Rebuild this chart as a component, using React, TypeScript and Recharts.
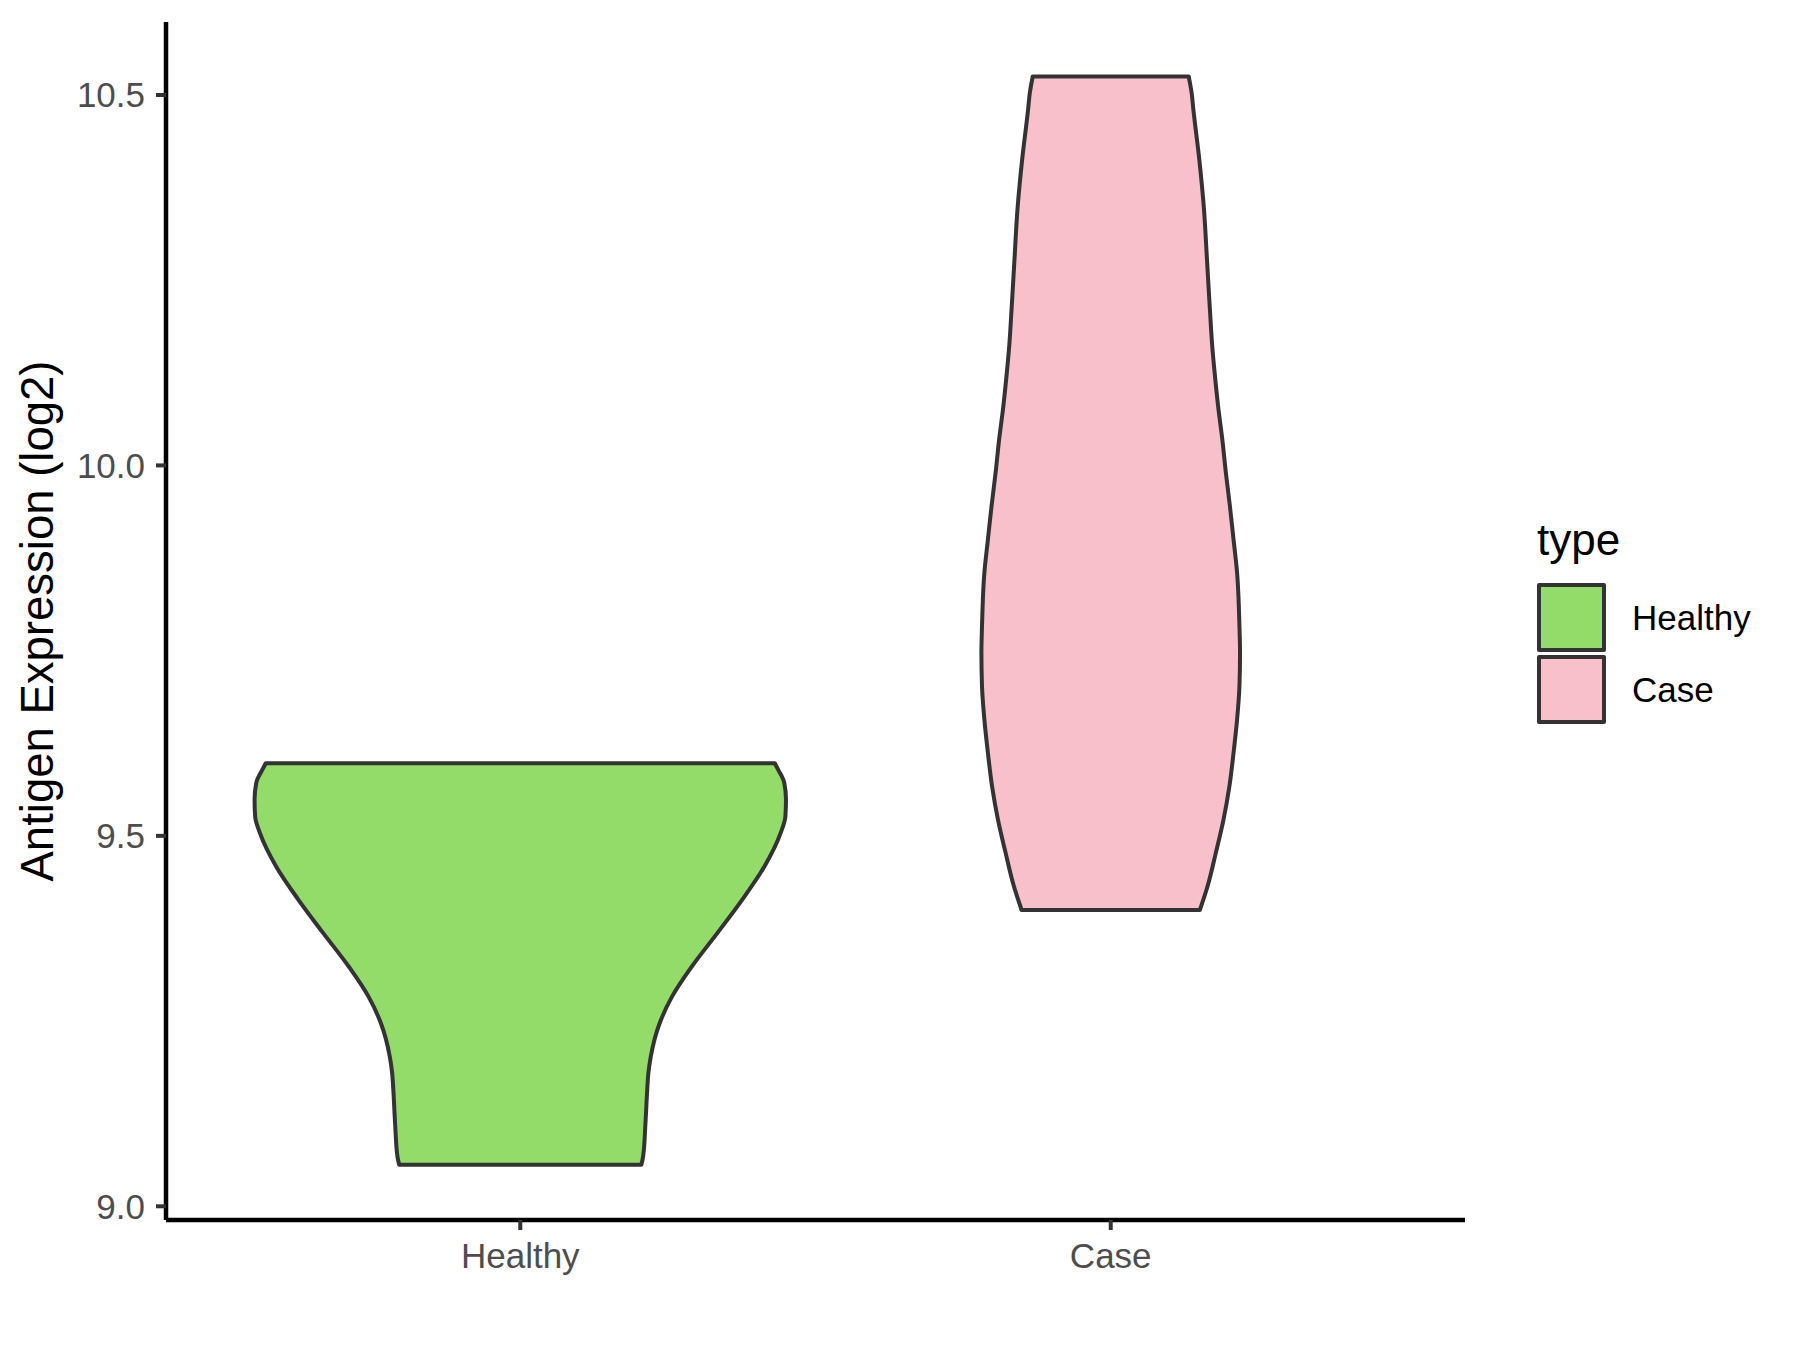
import React from 'react';
import { ComposedChart, Area, XAxis, YAxis, Legend, ReferenceLine } from 'recharts';

const categories = ['Healthy', 'Case'];
const fills = ['#93DC6A', '#F8C0CB'];
const yTicks = [9.0, 9.5, 10.0, 10.5];

// violin outline: expression value and half width (in category units)
const healthyY = [9.056, 9.067, 9.112, 9.157, 9.18, 9.202, 9.247, 9.283, 9.323, 9.369, 9.414, 9.458, 9.504, 9.526, 9.549, 9.572, 9.589, 9.598];
const healthyHalfWidth = [0.205, 0.208, 0.212, 0.215, 0.217, 0.221, 0.236, 0.257, 0.29, 0.334, 0.376, 0.413, 0.441, 0.449, 0.45, 0.447, 0.437, 0.431];

const caseY = [9.4, 9.432, 9.477, 9.522, 9.567, 9.612, 9.657, 9.702, 9.747, 9.783, 9.855, 9.9, 9.944, 9.99, 10.035, 10.079, 10.125, 10.16, 10.21, 10.278, 10.345, 10.413, 10.48, 10.503, 10.525];
const caseHalfWidth = [0.151, 0.164, 0.178, 0.191, 0.201, 0.208, 0.214, 0.218, 0.219, 0.218, 0.214, 0.208, 0.202, 0.195, 0.189, 0.182, 0.176, 0.172, 0.168, 0.163, 0.158, 0.15, 0.14, 0.137, 0.132];

const font = '"Liberation Sans", Arial, sans-serif';
const outline = '#333333';

const toRows = (ys: number[], hws: number[], center: number) =>
  ys.map((y, i) => ({ y, range: [center - hws[i], center + hws[i]] }));

const violins = [
  { name: categories[0], fill: fills[0], rows: toRows(healthyY, healthyHalfWidth, 1) },
  { name: categories[1], fill: fills[1], rows: toRows(caseY, caseHalfWidth, 2) },
];

const YTitle = ({ viewBox }: any) => {
  const x = viewBox.x + 45;
  const y = viewBox.y + viewBox.height / 2;
  return (
    <text x={x} y={y} transform={`rotate(-90, ${x}, ${y})`} textAnchor="middle" fontSize={45.5} fontFamily={font} fill="#000">
      Antigen Expression (log2)
    </text>
  );
};

const renderLegend = () => (
  <div style={{ position: 'relative', width: 260, height: 240, fontFamily: font, color: '#000' }}>
    <div style={{ position: 'absolute', left: 8, top: 18, fontSize: 44, lineHeight: '44px' }}>type</div>
    {categories.map((c, i) => (
      <React.Fragment key={c}>
        <div
          style={{
            position: 'absolute',
            left: 8,
            top: 83 + i * 72,
            width: 69,
            height: 69,
            boxSizing: 'border-box',
            border: `4px solid ${outline}`,
            borderRadius: 2,
            background: fills[i],
          }}
        />
        <div style={{ position: 'absolute', left: 103, top: 83 + i * 72, height: 69, lineHeight: '69px', fontSize: 35 }}>{c}</div>
      </React.Fragment>
    ))}
  </div>
);

export default function App() {
  return (
    <ComposedChart width={1784} height={1334} layout="vertical" margin={{ top: 14, right: 327, bottom: 62, left: 0 }}>
      <XAxis
        type="number"
        domain={[0.4, 2.6]}
        ticks={[1, 2]}
        interval={0}
        allowDataOverflow
        tickFormatter={(v: number) => categories[v - 1]}
        height={60}
        tickSize={10}
        tickMargin={13}
        axisLine={{ stroke: '#000', strokeWidth: 4.5 }}
        tickLine={{ stroke: outline, strokeWidth: 4 }}
        tick={{ fill: '#4D4D4D', fontSize: 35, fontFamily: font }}
      />
      <YAxis
        type="number"
        dataKey="y"
        reversed
        domain={[8.9815, 10.5985]}
        ticks={yTicks}
        interval={0}
        allowDataOverflow
        tickFormatter={(v: number) => v.toFixed(1)}
        width={158}
        tickSize={10}
        tickMargin={11}
        axisLine={{ stroke: '#000', strokeWidth: 4.5 }}
        tickLine={{ stroke: outline, strokeWidth: 4 }}
        tick={{ fill: '#4D4D4D', fontSize: 35, fontFamily: font }}
        label={<YTitle />}
      />
      {violins.map((v) => (
        <Area
          key={v.name}
          name={v.name}
          data={v.rows}
          dataKey="range"
          type="monotone"
          fill={v.fill}
          fillOpacity={1}
          stroke={outline}
          strokeWidth={4}
          dot={false}
          activeDot={false}
          isAnimationActive={false}
        />
      ))}
      {violins.map((v) =>
        [v.rows[0], v.rows[v.rows.length - 1]].map((r, j) => (
          <ReferenceLine
            key={`${v.name}-${j}`}
            segment={[
              { x: r.range[0], y: r.y },
              { x: r.range[1], y: r.y },
            ]}
            stroke={outline}
            strokeWidth={4}
            strokeLinecap="round"
          />
        ))
      )}
      <Legend
        layout="vertical"
        align="center"
        verticalAlign="middle"
        content={renderLegend}
        wrapperStyle={{ left: 1521, top: 492, width: 260, height: 240 }}
      />
    </ComposedChart>
  );
}
